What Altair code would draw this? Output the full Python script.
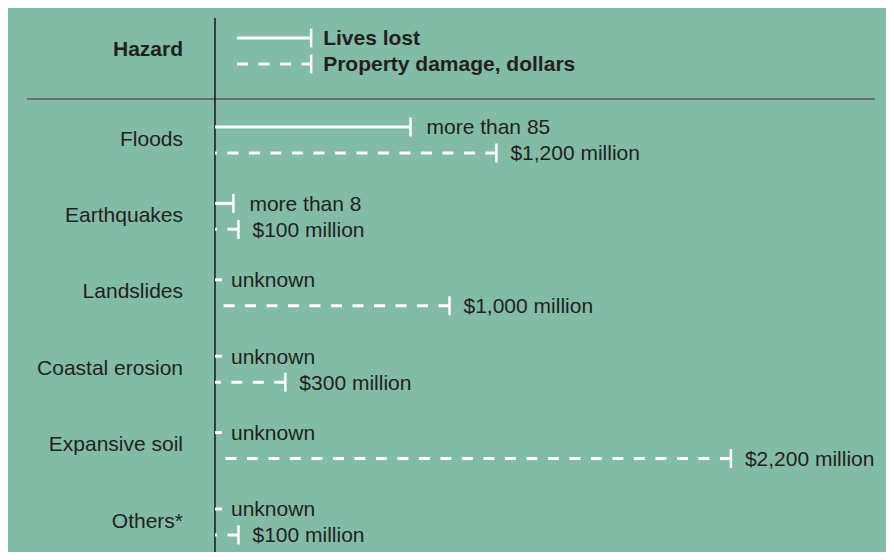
import altair as alt
import pandas as pd

# ---------------- data ----------------
hazards = ["Floods", "Earthquakes", "Landslides", "Coastal erosion", "Expansive soil", "Others*"]
lives_lost = [85, 8, None, None, None, None]
lives_labels = ["more than 85", "more than 8", "unknown", "unknown", "unknown", "unknown"]
damage_millions = [1200, 100, 1000, 300, 2200, 100]
damage_labels = ["$1,200 million", "$100 million", "$1,000 million",
                 "$300 million", "$2,200 million", "$100 million"]
series = ["Lives lost", "Property damage, dollars"]
header = "Hazard"

df = pd.DataFrame({
    "hazard": hazards,
    "row": list(range(len(hazards))),
    "lives": lives_lost,
    "lives_label": lives_labels,
    "damage": damage_millions,
    "damage_label": damage_labels,
})

# ---------------- layout ----------------
TOTAL_W, TOTAL_H, PAD_LEFT = 878, 544, 207
PLOT_W, PLOT_H = TOTAL_W - PAD_LEFT, TOTAL_H
LIVES_MAX = PLOT_W / 2.3          # px per life ~2.3
DOLLAR_MAX = PLOT_W / 0.2345      # px per million ~0.2345
ROW_PX, FIRST_ROW_Y = 76.4, 130   # row spacing and first row centre (chart px)
Y_DOMAIN = [-FIRST_ROW_Y / ROW_PX, (PLOT_H - FIRST_ROW_Y) / ROW_PX]
SOLID_OFF, DASH_OFF = -0.144, 0.196
STUB = 3
HEADER_ROW, LEG_SOLID, LEG_DASH, DIVIDER_ROW = -1.178, -1.309, -0.969, -0.5105
LEG_X0, LEG_X1 = 94, 410
BG = "#82bba6"
INK = "#231f20"
DASH = [11, 10.5]
TXT = dict(font="Liberation Sans", fontSize=21, color=INK)

ysc = alt.Scale(domain=Y_DOMAIN, reverse=True, nice=False, zero=False)
lsc = alt.Scale(domain=[0, LIVES_MAX], nice=False, zero=False)
dsc = alt.Scale(domain=[0, DOLLAR_MAX], nice=False, zero=False)

base = alt.Chart(df)

# lives lost (solid)
solid = base.transform_calculate(
    y_s=f"datum.row + ({SOLID_OFF})",
    x0="0",
    x_end=f"isValid(datum.lives) ? datum.lives : {STUB}",
    x_t="isValid(datum.lives) ? datum.lives : 0",
)
solid_line = solid.mark_rule(color="white", strokeWidth=3).encode(
    x=alt.X("x0:Q", scale=lsc, axis=None), x2="x_end:Q",
    y=alt.Y("y_s:Q", scale=ysc, axis=None))
solid_cap = solid.transform_filter("isValid(datum.lives)").mark_tick(
    orient="vertical", color="white", size=19, thickness=2.5, opacity=1).encode(
    x=alt.X("lives:Q", scale=lsc, axis=None),
    y=alt.Y("y_s:Q", scale=ysc, axis=None))
solid_text = solid.mark_text(align="left", baseline="alphabetic", dx=16, dy=7.5, **TXT).encode(
    x=alt.X("x_t:Q", scale=lsc, axis=None),
    y=alt.Y("y_s:Q", scale=ysc, axis=None),
    text="lives_label:N")

# property damage (dashed)
dashed = base.transform_calculate(y_d=f"datum.row + ({DASH_OFF})", x0="0")
dash_line = dashed.mark_rule(color="white", strokeWidth=3, strokeDash=DASH).encode(
    x=alt.X("damage:Q", scale=dsc, axis=None), x2="x0:Q",
    y=alt.Y("y_d:Q", scale=ysc, axis=None))
dash_cap = dashed.mark_tick(orient="vertical", color="white", size=19, thickness=2.5, opacity=1).encode(
    x=alt.X("damage:Q", scale=dsc, axis=None),
    y=alt.Y("y_d:Q", scale=ysc, axis=None))
dash_text = dashed.mark_text(align="left", baseline="alphabetic", dx=14, dy=7.5, **TXT).encode(
    x=alt.X("damage:Q", scale=dsc, axis=None),
    y=alt.Y("y_d:Q", scale=ysc, axis=None),
    text="damage_label:N")

# hazard names
names = base.mark_text(align="right", baseline="alphabetic", dy=7.5, **TXT).encode(
    x=alt.value(-32), y=alt.Y("row:Q", scale=ysc, axis=None), text="hazard:N")

one = alt.Chart(pd.DataFrame({"k": [0]}))
hdr = one.mark_text(text=header, align="right", baseline="alphabetic", dy=7.5,
                    fontWeight="bold", **TXT).encode(
    x=alt.value(-32), y=alt.YDatum(HEADER_ROW, scale=ysc, axis=None))

# legend
leg_layers = []
for name, row, dash in [(series[0], LEG_SOLID, None), (series[1], LEG_DASH, DASH)]:
    kw = dict(color="white", strokeWidth=3)
    if dash:
        kw["strokeDash"] = dash
    leg_layers.append(one.mark_rule(**kw).encode(
        x=alt.XDatum(LEG_X0, scale=dsc, axis=None), x2=alt.X2Datum(LEG_X1),
        y=alt.YDatum(row, scale=ysc, axis=None)))
    leg_layers.append(one.mark_tick(orient="vertical", color="white", size=19,
                                    thickness=2.5, opacity=1).encode(
        x=alt.XDatum(LEG_X1, scale=dsc, axis=None),
        y=alt.YDatum(row, scale=ysc, axis=None)))
    leg_layers.append(one.mark_text(text=name, align="left", baseline="alphabetic",
                                    dx=12, dy=7.5, fontWeight="bold", **TXT).encode(
        x=alt.XDatum(LEG_X1, scale=dsc, axis=None),
        y=alt.YDatum(row, scale=ysc, axis=None)))

divider = one.mark_rule(color="#6e6e6e", strokeWidth=2).encode(
    x=alt.value(-188), x2=alt.value(660),
    y=alt.YDatum(DIVIDER_ROW, scale=ysc, axis=None))
axis_line = one.mark_rule(color="black", strokeWidth=1.3).encode(
    x=alt.value(0),
    y=alt.YDatum(-1.57, scale=ysc, axis=None), y2=alt.Y2Datum(5.42))

chart = alt.layer(
    divider, axis_line, hdr, *leg_layers,
    solid_line, solid_cap, solid_text,
    dash_line, dash_cap, dash_text, names,
).resolve_scale(x="independent").properties(
    width=PLOT_W, height=PLOT_H, background=BG,
    padding={"left": PAD_LEFT, "top": 0, "right": 0, "bottom": 0},
    autosize=alt.AutoSizeParams(type="none"),
).configure_view(stroke=None)

chart.save("out.html", embed_options={"renderer": "svg", "actions": False})
